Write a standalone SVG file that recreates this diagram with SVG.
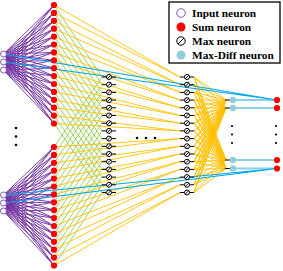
<svg xmlns="http://www.w3.org/2000/svg" xmlns:xlink="http://www.w3.org/1999/xlink" width="283" height="271" viewBox="0 0 283 271">
<style>
.pu{stroke:#7030a0;stroke-width:0.9;fill:none}
.gr{stroke:#92d050;stroke-width:0.9;fill:none}
.ye{stroke:#ffc000;stroke-width:0.9;fill:none}
.bl{stroke:#00a8ee;stroke-width:1.2;fill:none}
.lb{stroke:#8dd0e6;stroke-width:2;fill:none}
.st{stroke:#000;stroke-width:1;fill:none}
.in{fill:#fff;stroke:#7f58c0;stroke-width:1}
.sum{fill:#f00}
.md{fill:#92cddc}
.dot{fill:#000}
.lg{font-family:"Liberation Serif","Times New Roman",serif;font-weight:bold;font-size:11.3px;fill:#000}
</style>
<defs>
<g id="mx"><path d="M-7 0H-2.5M2.5 0H7" stroke="#000" stroke-width="1"/><circle r="2.5" fill="#fff" stroke="#000" stroke-width="1"/><path d="M-1.8 1.8L1.8-1.8" stroke="#000" stroke-width="0.9"/></g>
</defs>
<rect width="283" height="271" fill="#fff"/>
<g id="connectors">
<path class="pu" d="M3.5 54 54 5M3.5 54 54 12.9M3.5 54 54 20.8M3.5 54 54 28.7M3.5 54 54 36.6M3.5 54 54 44.5M3.5 54 54 52.4M3.5 54 54 60.3M3.5 54 54 68.2M3.5 54 54 76.1M3.5 54 54 84M3.5 54 54 91.9M3.5 54 54 99.8M3.5 54 54 107.7M3.5 54 54 115.6M3.5 54 54 123.5
M3.5 62 54 5M3.5 62 54 12.9M3.5 62 54 20.8M3.5 62 54 28.7M3.5 62 54 36.6M3.5 62 54 44.5M3.5 62 54 52.4M3.5 62 54 60.3M3.5 62 54 68.2M3.5 62 54 76.1M3.5 62 54 84M3.5 62 54 91.9M3.5 62 54 99.8M3.5 62 54 107.7M3.5 62 54 115.6M3.5 62 54 123.5
M3.5 70 54 5M3.5 70 54 12.9M3.5 70 54 20.8M3.5 70 54 28.7M3.5 70 54 36.6M3.5 70 54 44.5M3.5 70 54 52.4M3.5 70 54 60.3M3.5 70 54 68.2M3.5 70 54 76.1M3.5 70 54 84M3.5 70 54 91.9M3.5 70 54 99.8M3.5 70 54 107.7M3.5 70 54 115.6M3.5 70 54 123.5
M3.5 195 54 147M3.5 195 54 154.9M3.5 195 54 162.8M3.5 195 54 170.7M3.5 195 54 178.6M3.5 195 54 186.5M3.5 195 54 194.4M3.5 195 54 202.3M3.5 195 54 210.2M3.5 195 54 218.1M3.5 195 54 226M3.5 195 54 233.9M3.5 195 54 241.8M3.5 195 54 249.7M3.5 195 54 257.6M3.5 195 54 265.5
M3.5 203 54 147M3.5 203 54 154.9M3.5 203 54 162.8M3.5 203 54 170.7M3.5 203 54 178.6M3.5 203 54 186.5M3.5 203 54 194.4M3.5 203 54 202.3M3.5 203 54 210.2M3.5 203 54 218.1M3.5 203 54 226M3.5 203 54 233.9M3.5 203 54 241.8M3.5 203 54 249.7M3.5 203 54 257.6M3.5 203 54 265.5
M3.5 211 54 147M3.5 211 54 154.9M3.5 211 54 162.8M3.5 211 54 170.7M3.5 211 54 178.6M3.5 211 54 186.5M3.5 211 54 194.4M3.5 211 54 202.3M3.5 211 54 210.2M3.5 211 54 218.1M3.5 211 54 226M3.5 211 54 233.9M3.5 211 54 241.8M3.5 211 54 249.7M3.5 211 54 257.6M3.5 211 54 265.5"/>
<path class="gr" d="M54 5 102 77M54 12.9 102 84.7M54 20.8 102 92.4M54 28.7 102 100.1M54 36.6 102 107.8M54 44.5 102 115.5M54 52.4 102 123.2M54 60.3 102 130.9M54 68.2 102 138.6M54 76.1 102 146.3M54 84 102 154M54 91.9 102 161.7M54 99.8 102 169.4M54 107.7 102 177.1M54 115.6 102 184.8M54 123.5 102 192.5
M54 147 102 77M54 154.9 102 84.7M54 162.8 102 92.4M54 170.7 102 100.1M54 178.6 102 107.8M54 186.5 102 115.5M54 194.4 102 123.2M54 202.3 102 130.9M54 210.2 102 138.6M54 218.1 102 146.3M54 226 102 154M54 233.9 102 161.7M54 241.8 102 169.4M54 249.7 102 177.1M54 257.6 102 184.8M54 265.5 102 192.5"/>
<path class="ye" d="M54 5 180 77M54 12.9 180 77M54 20.8 180 84.7M54 28.7 180 84.7M54 36.6 180 92.4M54 44.5 180 92.4M54 52.4 180 100.1M54 60.3 180 100.1M54 68.2 180 107.8M54 76.1 180 107.8M54 84 180 115.5M54 91.9 180 115.5M54 99.8 180 123.2M54 107.7 180 123.2M54 115.6 180 130.9M54 123.5 180 130.9
M54 147 180 138.6M54 154.9 180 138.6M54 162.8 180 146.3M54 170.7 180 146.3M54 178.6 180 154M54 186.5 180 154M54 194.4 180 161.7M54 202.3 180 161.7M54 210.2 180 169.4M54 218.1 180 169.4M54 226 180 177.1M54 233.9 180 177.1M54 241.8 180 184.8M54 249.7 180 184.8M54 257.6 180 192.5M54 265.5 180 192.5"/>
<path class="ye" d="M194 77 226 100M194 84.7 226 100M194 92.4 226 100M194 100.1 226 100M194 107.8 226 100M194 115.5 226 100M194 123.2 226 100M194 130.9 226 100M194 138.6 226 100M194 146.3 226 100M194 154 226 100M194 161.7 226 100M194 169.4 226 100M194 177.1 226 100M194 184.8 226 100M194 192.5 226 100
M194 77 226 108M194 84.7 226 108M194 92.4 226 108M194 100.1 226 108M194 107.8 226 108M194 115.5 226 108M194 123.2 226 108M194 130.9 226 108M194 138.6 226 108M194 146.3 226 108M194 154 226 108M194 161.7 226 108M194 169.4 226 108M194 177.1 226 108M194 184.8 226 108M194 192.5 226 108
M194 77 226 160M194 84.7 226 160M194 92.4 226 160M194 100.1 226 160M194 107.8 226 160M194 115.5 226 160M194 123.2 226 160M194 130.9 226 160M194 138.6 226 160M194 146.3 226 160M194 154 226 160M194 161.7 226 160M194 169.4 226 160M194 177.1 226 160M194 184.8 226 160M194 192.5 226 160
M194 77 226 168.5M194 84.7 226 168.5M194 92.4 226 168.5M194 100.1 226 168.5M194 107.8 226 168.5M194 115.5 226 168.5M194 123.2 226 168.5M194 130.9 226 168.5M194 138.6 226 168.5M194 146.3 226 168.5M194 154 226 168.5M194 161.7 226 168.5M194 169.4 226 168.5M194 177.1 226 168.5M194 184.8 226 168.5M194 192.5 226 168.5"/>
<path class="lb" d="M233 100H277M233 108H277M233 160H277M233 168.5H277"/>
<path class="bl" d="M3.5 54 277 100M3.5 62 277 100M3.5 195 277 168.5M3.5 203 277 168.5"/>
<path class="st" d="M225 100H230M225 108H230M225 160H230M225 168.5H230"/>
</g>
<g id="inputs">
<g id="in-t0"><circle class="in" cx="3.5" cy="54" r="3"/></g>
<g id="in-t1"><circle class="in" cx="3.5" cy="62" r="3"/></g>
<g id="in-t2"><circle class="in" cx="3.5" cy="70" r="3"/></g>
<g id="in-b0"><circle class="in" cx="3.5" cy="195" r="3"/></g>
<g id="in-b1"><circle class="in" cx="3.5" cy="203" r="3"/></g>
<g id="in-b2"><circle class="in" cx="3.5" cy="211" r="3"/></g>
</g>
<g id="sums">
<g id="sum-t0"><circle class="sum" cx="54" cy="5" r="3.1"/></g>
<g id="sum-t1"><circle class="sum" cx="54" cy="12.9" r="3.1"/></g>
<g id="sum-t2"><circle class="sum" cx="54" cy="20.8" r="3.1"/></g>
<g id="sum-t3"><circle class="sum" cx="54" cy="28.7" r="3.1"/></g>
<g id="sum-t4"><circle class="sum" cx="54" cy="36.6" r="3.1"/></g>
<g id="sum-t5"><circle class="sum" cx="54" cy="44.5" r="3.1"/></g>
<g id="sum-t6"><circle class="sum" cx="54" cy="52.4" r="3.1"/></g>
<g id="sum-t7"><circle class="sum" cx="54" cy="60.3" r="3.1"/></g>
<g id="sum-t8"><circle class="sum" cx="54" cy="68.2" r="3.1"/></g>
<g id="sum-t9"><circle class="sum" cx="54" cy="76.1" r="3.1"/></g>
<g id="sum-t10"><circle class="sum" cx="54" cy="84" r="3.1"/></g>
<g id="sum-t11"><circle class="sum" cx="54" cy="91.9" r="3.1"/></g>
<g id="sum-t12"><circle class="sum" cx="54" cy="99.8" r="3.1"/></g>
<g id="sum-t13"><circle class="sum" cx="54" cy="107.7" r="3.1"/></g>
<g id="sum-t14"><circle class="sum" cx="54" cy="115.6" r="3.1"/></g>
<g id="sum-t15"><circle class="sum" cx="54" cy="123.5" r="3.1"/></g>
<g id="sum-b0"><circle class="sum" cx="54" cy="147" r="3.1"/></g>
<g id="sum-b1"><circle class="sum" cx="54" cy="154.9" r="3.1"/></g>
<g id="sum-b2"><circle class="sum" cx="54" cy="162.8" r="3.1"/></g>
<g id="sum-b3"><circle class="sum" cx="54" cy="170.7" r="3.1"/></g>
<g id="sum-b4"><circle class="sum" cx="54" cy="178.6" r="3.1"/></g>
<g id="sum-b5"><circle class="sum" cx="54" cy="186.5" r="3.1"/></g>
<g id="sum-b6"><circle class="sum" cx="54" cy="194.4" r="3.1"/></g>
<g id="sum-b7"><circle class="sum" cx="54" cy="202.3" r="3.1"/></g>
<g id="sum-b8"><circle class="sum" cx="54" cy="210.2" r="3.1"/></g>
<g id="sum-b9"><circle class="sum" cx="54" cy="218.1" r="3.1"/></g>
<g id="sum-b10"><circle class="sum" cx="54" cy="226" r="3.1"/></g>
<g id="sum-b11"><circle class="sum" cx="54" cy="233.9" r="3.1"/></g>
<g id="sum-b12"><circle class="sum" cx="54" cy="241.8" r="3.1"/></g>
<g id="sum-b13"><circle class="sum" cx="54" cy="249.7" r="3.1"/></g>
<g id="sum-b14"><circle class="sum" cx="54" cy="257.6" r="3.1"/></g>
<g id="sum-b15"><circle class="sum" cx="54" cy="265.5" r="3.1"/></g>
</g>
<g id="max1">
<g id="max1-0"><use xlink:href="#mx" href="#mx" x="109" y="77"/></g>
<g id="max1-1"><use xlink:href="#mx" href="#mx" x="109" y="84.7"/></g>
<g id="max1-2"><use xlink:href="#mx" href="#mx" x="109" y="92.4"/></g>
<g id="max1-3"><use xlink:href="#mx" href="#mx" x="109" y="100.1"/></g>
<g id="max1-4"><use xlink:href="#mx" href="#mx" x="109" y="107.8"/></g>
<g id="max1-5"><use xlink:href="#mx" href="#mx" x="109" y="115.5"/></g>
<g id="max1-6"><use xlink:href="#mx" href="#mx" x="109" y="123.2"/></g>
<g id="max1-7"><use xlink:href="#mx" href="#mx" x="109" y="130.9"/></g>
<g id="max1-8"><use xlink:href="#mx" href="#mx" x="109" y="138.6"/></g>
<g id="max1-9"><use xlink:href="#mx" href="#mx" x="109" y="146.3"/></g>
<g id="max1-10"><use xlink:href="#mx" href="#mx" x="109" y="154"/></g>
<g id="max1-11"><use xlink:href="#mx" href="#mx" x="109" y="161.7"/></g>
<g id="max1-12"><use xlink:href="#mx" href="#mx" x="109" y="169.4"/></g>
<g id="max1-13"><use xlink:href="#mx" href="#mx" x="109" y="177.1"/></g>
<g id="max1-14"><use xlink:href="#mx" href="#mx" x="109" y="184.8"/></g>
<g id="max1-15"><use xlink:href="#mx" href="#mx" x="109" y="192.5"/></g>
</g>
<g id="max2">
<g id="max2-0"><use xlink:href="#mx" href="#mx" x="187" y="77"/></g>
<g id="max2-1"><use xlink:href="#mx" href="#mx" x="187" y="84.7"/></g>
<g id="max2-2"><use xlink:href="#mx" href="#mx" x="187" y="92.4"/></g>
<g id="max2-3"><use xlink:href="#mx" href="#mx" x="187" y="100.1"/></g>
<g id="max2-4"><use xlink:href="#mx" href="#mx" x="187" y="107.8"/></g>
<g id="max2-5"><use xlink:href="#mx" href="#mx" x="187" y="115.5"/></g>
<g id="max2-6"><use xlink:href="#mx" href="#mx" x="187" y="123.2"/></g>
<g id="max2-7"><use xlink:href="#mx" href="#mx" x="187" y="130.9"/></g>
<g id="max2-8"><use xlink:href="#mx" href="#mx" x="187" y="138.6"/></g>
<g id="max2-9"><use xlink:href="#mx" href="#mx" x="187" y="146.3"/></g>
<g id="max2-10"><use xlink:href="#mx" href="#mx" x="187" y="154"/></g>
<g id="max2-11"><use xlink:href="#mx" href="#mx" x="187" y="161.7"/></g>
<g id="max2-12"><use xlink:href="#mx" href="#mx" x="187" y="169.4"/></g>
<g id="max2-13"><use xlink:href="#mx" href="#mx" x="187" y="177.1"/></g>
<g id="max2-14"><use xlink:href="#mx" href="#mx" x="187" y="184.8"/></g>
<g id="max2-15"><use xlink:href="#mx" href="#mx" x="187" y="192.5"/></g>
</g>
<g id="maxdiff">
<g id="md-0"><circle class="md" cx="233" cy="100" r="3.2"/></g>
<g id="md-1"><circle class="md" cx="233" cy="108" r="3.2"/></g>
<g id="md-2"><circle class="md" cx="233" cy="160" r="3.2"/></g>
<g id="md-3"><circle class="md" cx="233" cy="168.5" r="3.2"/></g>
</g>
<g id="outputs">
<g id="out-0"><circle class="sum" cx="277" cy="100" r="3.1"/></g>
<g id="out-1"><circle class="sum" cx="277" cy="108" r="3.1"/></g>
<g id="out-2"><circle class="sum" cx="277" cy="160" r="3.1"/></g>
<g id="out-3"><circle class="sum" cx="277" cy="168.5" r="3.1"/></g>
</g>
<g id="ellipses">
<circle class="dot" cx="16" cy="128" r="1.3"/><circle class="dot" cx="16" cy="136.5" r="1.3"/><circle class="dot" cx="16" cy="145" r="1.3"/>
<circle class="dot" cx="137" cy="138" r="1.3"/><circle class="dot" cx="146" cy="138" r="1.3"/><circle class="dot" cx="155" cy="138" r="1.3"/>
<circle class="dot" cx="232" cy="126" r="1.1"/><circle class="dot" cx="232" cy="134.5" r="1.1"/><circle class="dot" cx="232" cy="143" r="1.1"/>
<circle class="dot" cx="276" cy="126" r="1.1"/><circle class="dot" cx="276" cy="134.5" r="1.1"/><circle class="dot" cx="276" cy="143" r="1.1"/>
</g>
<g id="legend">
<rect x="169" y="2" width="111" height="61" fill="#fff" stroke="#000" stroke-width="1.3"/>
<circle cx="181" cy="13" r="4.3" fill="#fff" stroke="#7f58c0" stroke-width="1"/>
<circle cx="181" cy="27" r="4.5" fill="#f00"/>
<g transform="translate(181 41)"><circle r="4.2" fill="none" stroke="#000" stroke-width="1"/><path d="M-3 3L3-3" stroke="#000" stroke-width="1"/></g>
<circle cx="181" cy="55" r="4.5" fill="#92cddc"/>
<text class="lg" x="192" y="17">Input neuron</text>
<text class="lg" x="192" y="31">Sum neuron</text>
<text class="lg" x="192" y="45">Max neuron</text>
<text class="lg" x="192" y="59">Max-Diff neuron</text>
</g>
</svg>
